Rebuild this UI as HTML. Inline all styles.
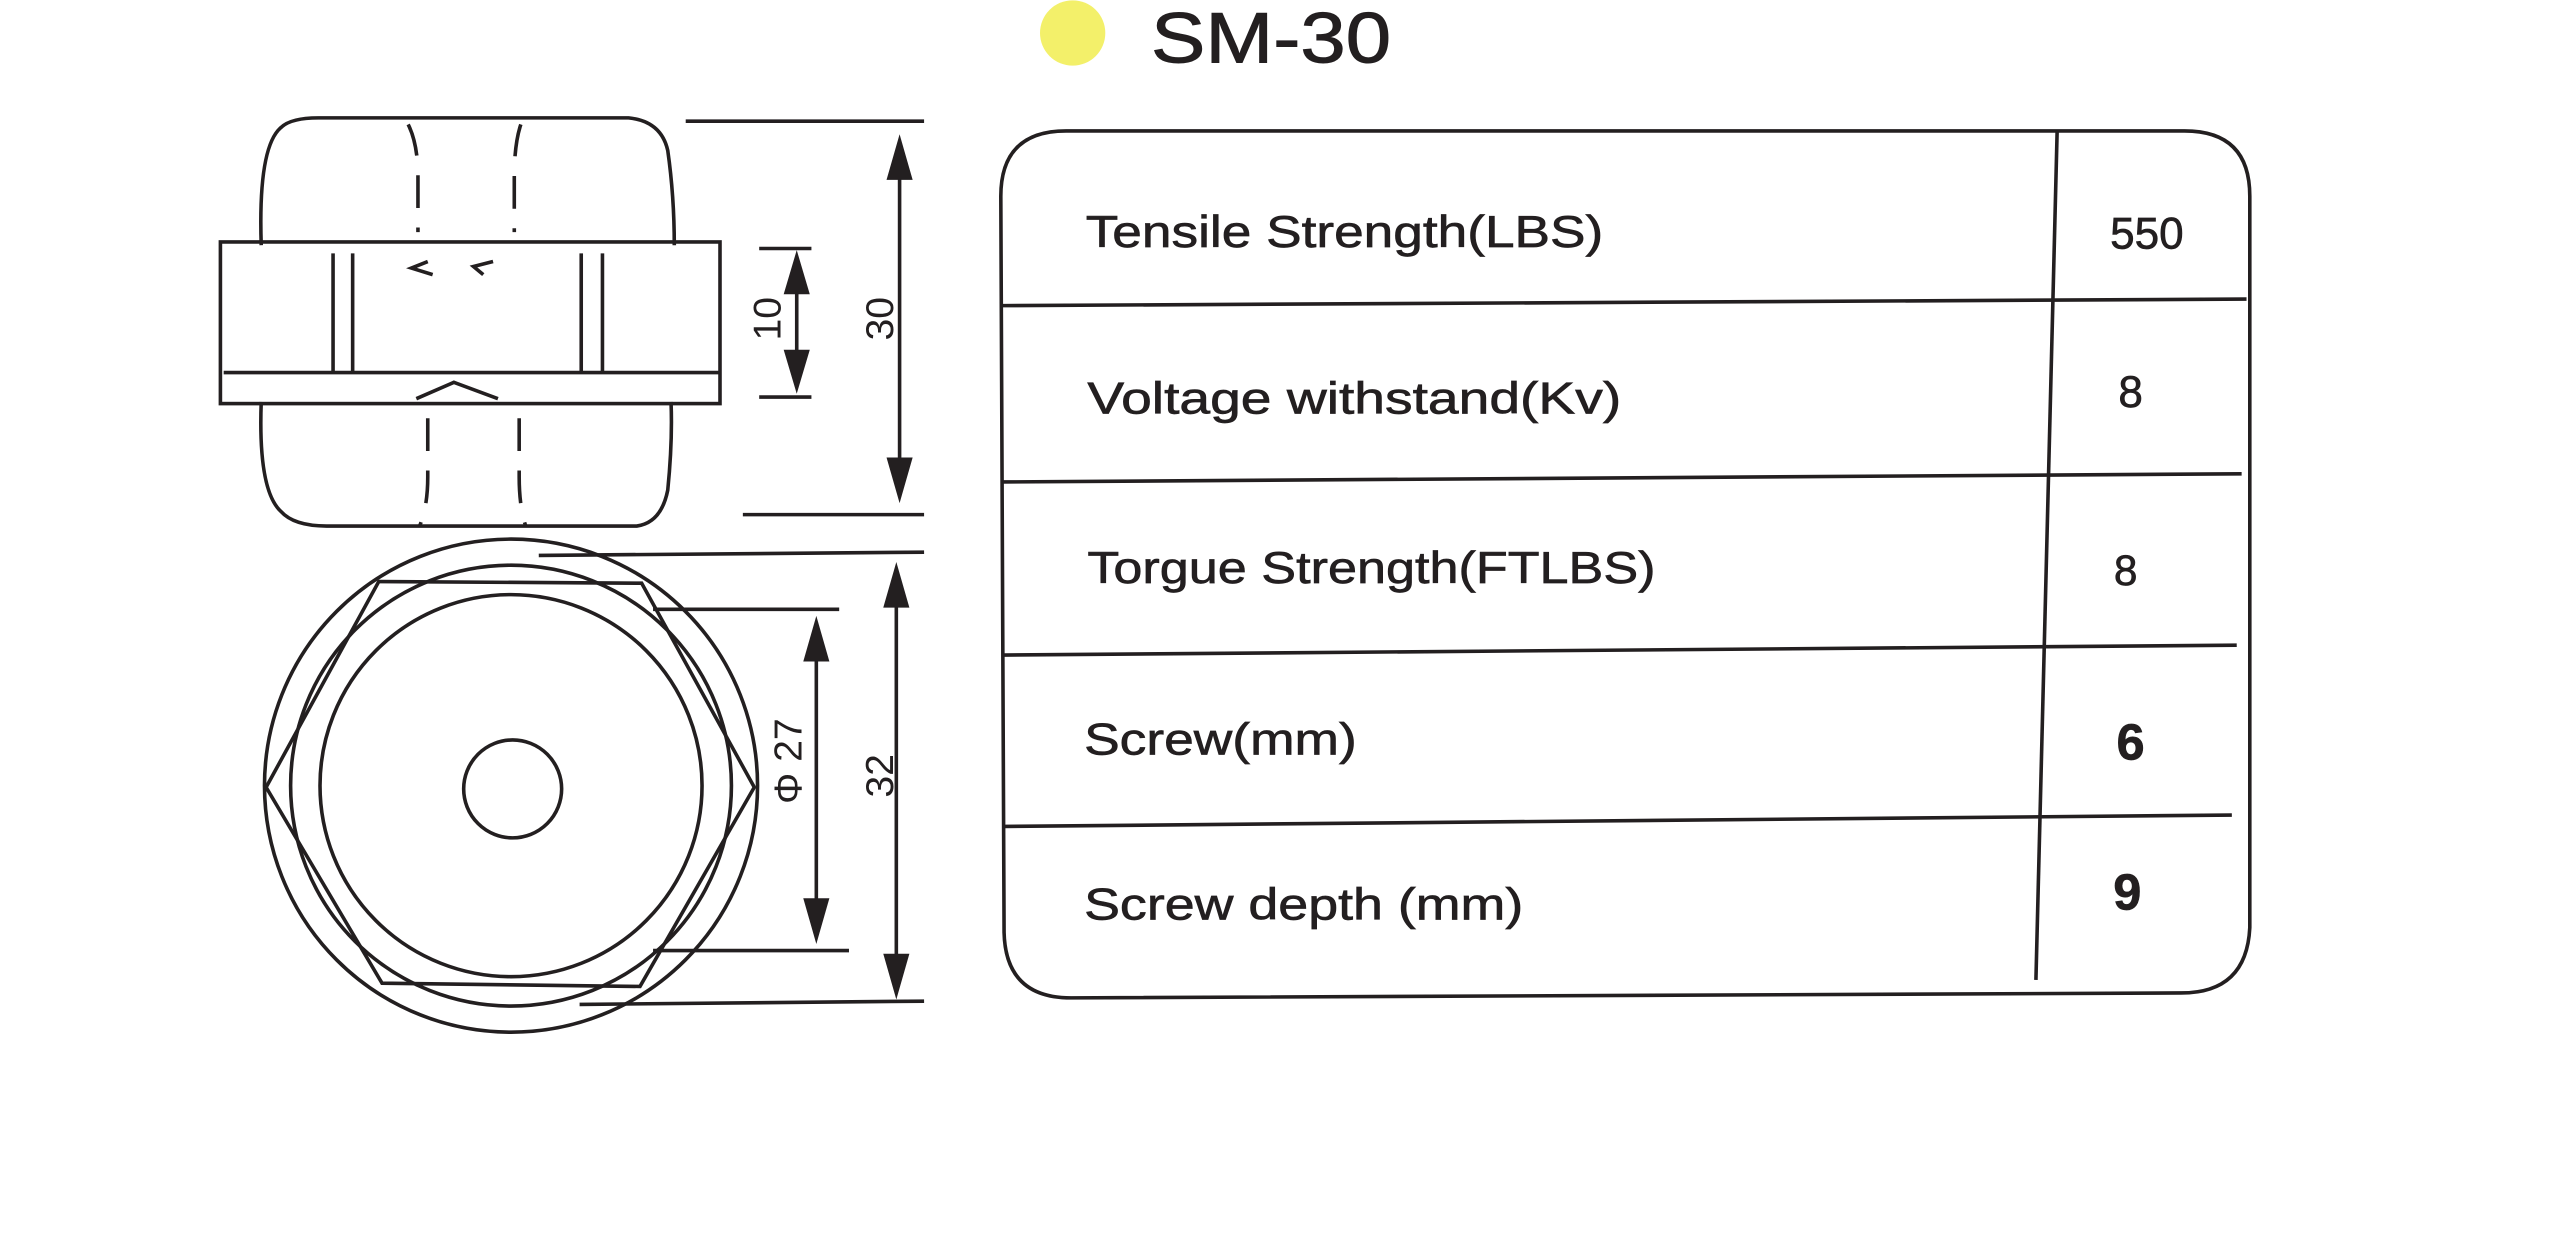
<!DOCTYPE html>
<html><head><meta charset="utf-8"><style>
html,body{margin:0;padding:0;background:#fff;}
svg{display:block;}
text{font-family:"Liberation Sans",sans-serif;fill:#231f20;}
</style></head><body>
<svg width="2560" height="1248" viewBox="0 0 1568 764" xmlns="http://www.w3.org/2000/svg">
<rect width="1568" height="764" fill="#fff"/>
<circle cx="657" cy="20" r="20" fill="#f3f06a"/>
<text x="705" y="38" font-size="44" textLength="147" lengthAdjust="spacingAndGlyphs" stroke="#231f20" stroke-width="0.6">SM-30</text>

<g fill="none" stroke="#231f20" stroke-width="2.2">
<path d="M653,80 H1338 Q1378,80 1378,120 V568 Q1376,608 1336,608 L656,611 Q616,611 615,571 L613,120 Q613,80 653,80 Z"/>
<line x1="1260" y1="80" x2="1247" y2="600"/>
<line x1="614" y1="187" x2="1376" y2="183"/>
<line x1="614" y1="295" x2="1373" y2="290"/>
<line x1="615" y1="401" x2="1370" y2="395"/>
<line x1="615" y1="506" x2="1367" y2="499"/>

<path d="M160,150 Q158,90 172,78 Q178,72 195,72 H385 Q405,74 409,92 Q413,120 413,150"/>
<path d="M160,246 Q158,300 172,313 Q180,322 200,322 H390 Q405,320 409,300 Q412,270 411,246"/>
<rect x="135" y="148" width="306" height="99"/>
<line x1="137" y1="228" x2="441" y2="228"/>
<line x1="204" y1="155" x2="204" y2="228"/><line x1="216" y1="155" x2="216" y2="228"/>
<line x1="356" y1="155" x2="356" y2="228"/><line x1="369" y1="155" x2="369" y2="228"/>
<path d="M250,76 Q256,88 256,108 V142" stroke-dasharray="20,12"/>
<path d="M319,76 Q315,88 315,108 V142" stroke-dasharray="20,12"/>
<path d="M262,256 V292 Q262,310 257,322" stroke-dasharray="20,12"/>
<path d="M318,256 V292 Q318,310 322,322" stroke-dasharray="20,12"/>
<path d="M262,160 L252,164 L265,168 M302,160 L290,163 L296,168"/>
<path d="M255,244 L278,234 L305,244"/>

<line x1="420" y1="74" x2="566" y2="74"/>
<line x1="455" y1="315" x2="566" y2="315"/>
<line x1="551" y1="90" x2="551" y2="300"/>
<line x1="465" y1="152" x2="497" y2="152"/>
<line x1="465" y1="243" x2="497" y2="243"/>
<line x1="488" y1="165" x2="488" y2="230"/>

<circle cx="313" cy="481" r="151"/>
<circle cx="313" cy="481" r="135"/>
<circle cx="313" cy="481" r="117"/>
<circle cx="314" cy="483" r="30"/>
<polygon points="163,482 232,356 393,357 462,482 392,604 234,602"/>
<line x1="330" y1="340" x2="566" y2="338"/>
<line x1="400" y1="373" x2="514" y2="373"/>
<line x1="400" y1="582" x2="520" y2="582"/>
<line x1="355" y1="615" x2="566" y2="613"/>
<line x1="500" y1="395" x2="500" y2="560"/>
<line x1="549" y1="360" x2="549" y2="600"/>
</g>
<g fill="#231f20">
<polygon points="551,82 543,110 559,110"/><polygon points="551,308 543,280 559,280"/>
<polygon points="488,153 480,180 496,180"/><polygon points="488,241 480,214 496,214"/>
<polygon points="500,377 492,405 508,405"/><polygon points="500,578 492,550 508,550"/>
<polygon points="549,344 541,372 557,372"/><polygon points="549,612 541,584 557,584"/>
</g>
<text font-size="24" transform="translate(547,195) rotate(-90)" text-anchor="middle">30</text>
<text font-size="24" transform="translate(478,195) rotate(-90)" text-anchor="middle">10</text>
<text font-size="24" transform="translate(547,475) rotate(-90)" text-anchor="middle">32</text>
<text font-size="24" transform="translate(491,466) rotate(-90)" text-anchor="middle">Φ 27</text>

<g font-size="27" stroke="#231f20" stroke-width="0.4">
<text x="665" y="151" textLength="317" lengthAdjust="spacingAndGlyphs">Tensile Strength(LBS)</text>
<text x="666" y="253" textLength="327" lengthAdjust="spacingAndGlyphs">Voltage withstand(Kv)</text>
<text x="666" y="357" textLength="348" lengthAdjust="spacingAndGlyphs">Torgue Strength(FTLBS)</text>
<text x="664" y="462" textLength="167" lengthAdjust="spacingAndGlyphs">Screw(mm)</text>
<text x="664" y="563" textLength="269" lengthAdjust="spacingAndGlyphs">Screw depth (mm)</text>
<text x="1315" y="152" text-anchor="middle">550</text>
<text x="1305" y="249" text-anchor="middle">8</text>
<text x="1302" y="358" text-anchor="middle" font-size="26">8</text>
<text x="1305" y="465" text-anchor="middle" font-weight="bold" font-size="31">6</text>
<text x="1303" y="557" text-anchor="middle" font-weight="bold" font-size="31">9</text>
</g>
</svg>
</body></html>
